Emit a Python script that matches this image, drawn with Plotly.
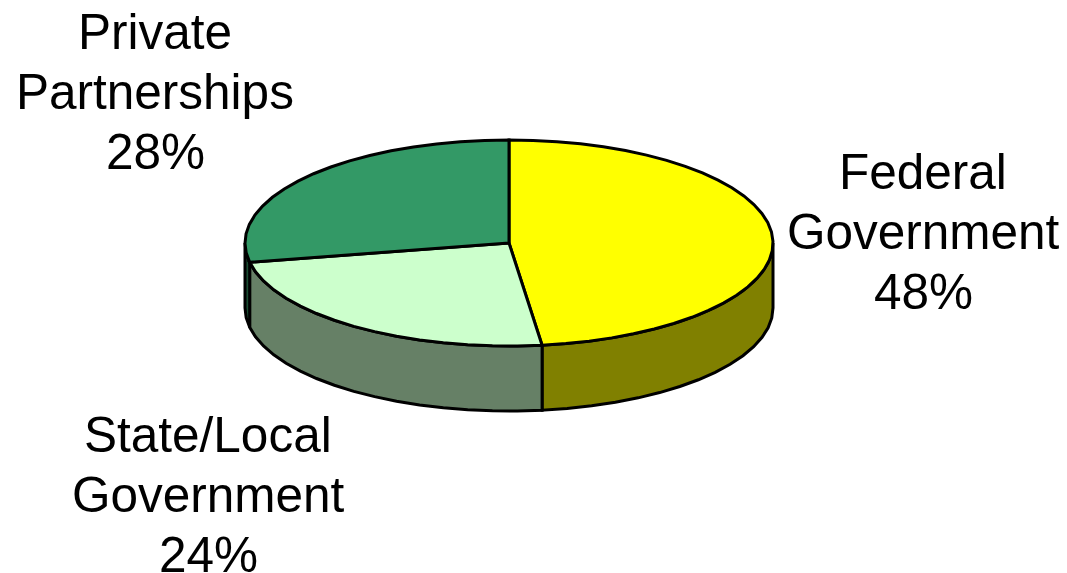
import numpy as np
import plotly.graph_objects as go

categories = ["Federal", "State/Local", "Private"]
shares = [48, 24, 28]
label_lines = [["Federal", "Government", "48%"],
               ["State/Local", "Government", "24%"],
               ["Private", "Partnerships", "28%"]]
top_colors = ["#FFFF00", "#CCFFCC", "#339966"]
side_colors = ["#808000", "#668066", "#1A4D33"]

CX, CY, RX, RY, DEPTH = 509, 243, 264, 103, 65
label_x = [923, 208, 155]
label_y = [171, 434, 31]
LINE = 60
FONT = 'Liberation Sans, Arial, sans-serif'

fig = go.Figure()
edges = np.cumsum([0] + shares) / sum(shares) * 2 * np.pi


def rim(a, b):
    n = max(3, int((b - a) / (2 * np.pi) * 72))
    t = np.linspace(a, b, n)
    return CX + RX * np.sin(t), CY - RY * np.cos(t)


def add(x, y, fill):
    fig.add_trace(go.Scatter(x=x, y=y, mode="lines", fill="toself", fillcolor=fill,
                             line=dict(color="black", width=3), hoverinfo="skip",
                             showlegend=False))


# Walls: only the part of each slice on the front half is visible
for i in range(len(shares)):
    a, b = max(edges[i], np.pi / 2), min(edges[i + 1], 3 * np.pi / 2)
    if a < b:
        x, y = rim(a, b)
        add(np.r_[x, x[::-1], x[0]], np.r_[y, y[::-1] + DEPTH, y[0]], side_colors[i])

# Top faces
for i in range(len(shares)):
    x, y = rim(edges[i], edges[i + 1])
    add(np.r_[CX, x, CX], np.r_[CY, y, CY], top_colors[i])

for lines, lx, ly in zip(label_lines, label_x, label_y):
    for j, text in enumerate(lines):
        fig.add_annotation(x=lx, y=ly + j * LINE, text=text, showarrow=False,
                           xanchor="center", yanchor="middle",
                           font=dict(family=FONT, size=49.5, color="black"))

fig.update_xaxes(range=[0, 1067], visible=False, fixedrange=True)
fig.update_yaxes(range=[573, 0], visible=False, fixedrange=True)
fig.update_layout(width=1067, height=573, margin=dict(l=0, r=0, t=0, b=0),
                  paper_bgcolor="white", plot_bgcolor="white", showlegend=False)
fig.write_html("out.html", config={"displayModeBar": False},
               post_script="document.body.style.margin='0';document.documentElement.style.overflow='hidden';")
